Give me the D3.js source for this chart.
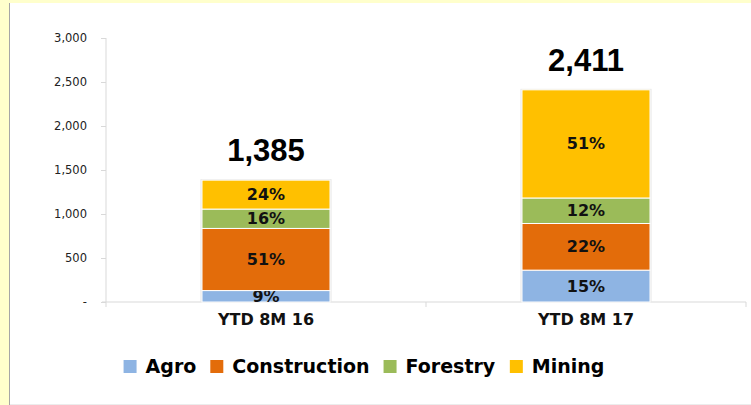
<!DOCTYPE html>
<html lang="en">
<head>
    <meta charset="UTF-8">
    <title>YTD 8M stacked bars</title>
    <script src="https://d3js.org/d3.v7.min.js"></script>
    <style>
        html, body { margin: 0; padding: 0; background: #ffffcc; }
        svg { display: block; }
    </style>
</head>
<body>
    <svg width="751" height="405"></svg>

    <script>
        // data
        const categories = ["YTD 8M 16", "YTD 8M 17"];
        const sectors = ["Agro", "Construction", "Forestry", "Mining"];
        const agro = [130, 362];
        const construction = [706, 530];
        const forestry = [220, 290];
        const mining = [329, 1229];
        const yTicks = [0, 500, 1000, 1500, 2000, 2500, 3000];

        const colors = ["#8eb4e3", "#e36c0a", "#9bbb59", "#ffc000"];

        const width = 751, height = 405;
        const svg = d3.select("svg");

        // white panel with grey left edge
        svg.append("rect")
            .attr("x", 10).attr("y", 3)
            .attr("width", width - 10).attr("height", height - 4)
            .attr("fill", "#fff");
        svg.append("line")
            .attr("x1", 9.5).attr("x2", 9.5).attr("y1", 3).attr("y2", height)
            .attr("stroke", "#a6a6a6").attr("stroke-width", 1);
        svg.append("line")
            .attr("x1", 10).attr("x2", width).attr("y1", 404.5).attr("y2", 404.5)
            .attr("stroke", "#ececec");

        const table = categories.map((c, i) => ({
            cat: c,
            Agro: agro[i],
            Construction: construction[i],
            Forestry: forestry[i],
            Mining: mining[i]
        }));
        table.forEach(d => d.total = d3.sum(sectors, s => d[s]));

        const x = d3.scaleBand()
            .domain(categories)
            .range([106, 746])
            .paddingInner(0)
            .paddingOuter(0);

        const y = d3.scaleLinear()
            .domain([0, 3000])
            .range([302, 38]);

        const barW = x.bandwidth() * 0.4;

        // y axis
        const yAxis = svg.append("g")
            .attr("transform", "translate(106,0)")
            .call(d3.axisLeft(y).tickValues(yTicks).tickSize(5).tickPadding(14)
                .tickFormat(d => d === 0 ? "-" : d3.format(",")(d)));
        yAxis.select(".domain").attr("stroke", "#d9d9d9").attr("d", "M0,38V302");
        yAxis.selectAll(".tick line").attr("stroke", "#d9d9d9");
        yAxis.selectAll(".tick text")
            .attr("fill", "#222")
            .style("font-family", "Tahoma, 'DejaVu Sans', sans-serif")
            .style("font-size", "11.5px");

        // x axis
        const xAxis = svg.append("g")
            .attr("transform", "translate(0,302)")
            .call(d3.axisBottom(x).tickSize(0).tickPadding(12));
        xAxis.select(".domain").attr("stroke", "#d9d9d9").attr("d", "M102,0H746");
        xAxis.selectAll(".tick text")
            .attr("fill", "#111")
            .style("font-family", "'DejaVu Sans', sans-serif")
            .style("font-weight", "bold")
            .style("font-size", "16px");
        // ticks at band boundaries
        const bounds = [x.range()[0], x.range()[0] + x.bandwidth(), x.range()[1]];
        svg.append("g").selectAll("line")
            .data(bounds)
            .join("line")
            .attr("x1", d => d).attr("x2", d => d)
            .attr("y1", 302).attr("y2", 307)
            .attr("stroke", "#d9d9d9");

        const stack = d3.stack().keys(sectors)(table);

        // faint bar shadow
        svg.append("g").selectAll("rect")
            .data(table)
            .join("rect")
            .attr("x", d => x(d.cat) + (x.bandwidth() - barW) / 2 - 1.5)
            .attr("y", d => y(d.total) - 1)
            .attr("width", barW + 3)
            .attr("height", d => y(0) - y(d.total) + 1)
            .attr("fill", "#e6e6e6");

        const layers = svg.append("g").selectAll("g")
            .data(stack)
            .join("g")
            .attr("fill", (d, i) => colors[i]);

        layers.selectAll("rect")
            .data(d => d.map(v => Object.assign(v, { key: d.key })))
            .join("rect")
            .attr("x", d => x(d.data.cat) + (x.bandwidth() - barW) / 2)
            .attr("y", d => y(d[1]))
            .attr("width", barW)
            .attr("height", d => y(d[0]) - y(d[1]))
            .attr("stroke", "#fff")
            .attr("stroke-width", 1);

        // percent labels
        layers.selectAll("text")
            .data(d => d)
            .join("text")
            .attr("x", d => x(d.data.cat) + x.bandwidth() / 2)
            .attr("y", d => (y(d[0]) + y(d[1])) / 2 + 1)
            .attr("text-anchor", "middle")
            .attr("dominant-baseline", "middle")
            .attr("fill", "#111")
            .style("font-family", "'DejaVu Sans', sans-serif")
            .style("font-weight", "bold")
            .style("font-size", "16px")
            .text(d => Math.round((d[1] - d[0]) / d.data.total * 100) + "%");

        // totals
        svg.append("g").selectAll("text")
            .data(table)
            .join("text")
            .attr("x", d => x(d.cat) + x.bandwidth() / 2)
            .attr("y", d => y(d.total) - 19)
            .attr("text-anchor", "middle")
            .attr("fill", "#000")
            .style("font-family", "'Liberation Sans', Arial, sans-serif")
            .style("font-weight", "bold")
            .style("font-size", "31px")
            .text(d => d3.format(",")(d.total));

        // legend
        const legend = svg.append("g");
        const items = legend.selectAll("g")
            .data(sectors)
            .join("g");
        items.append("rect")
            .attr("width", 13).attr("height", 13)
            .attr("y", 360)
            .attr("fill", (d, i) => colors[i]);
        items.append("text")
            .attr("x", 22)
            .attr("y", 373)
            .attr("fill", "#000")
            .style("font-family", "'DejaVu Sans', sans-serif")
            .style("font-weight", "bold")
            .style("font-size", "19px")
            .text(d => d);
        let cx = 0;
        items.each(function () {
            d3.select(this).attr("transform", `translate(${cx},0)`);
            cx += this.getBBox().width + 14;
        });
        const legW = cx - 14;
        legend.attr("transform", `translate(${364 - legW / 2},0)`);
    </script>
</body>
</html>
